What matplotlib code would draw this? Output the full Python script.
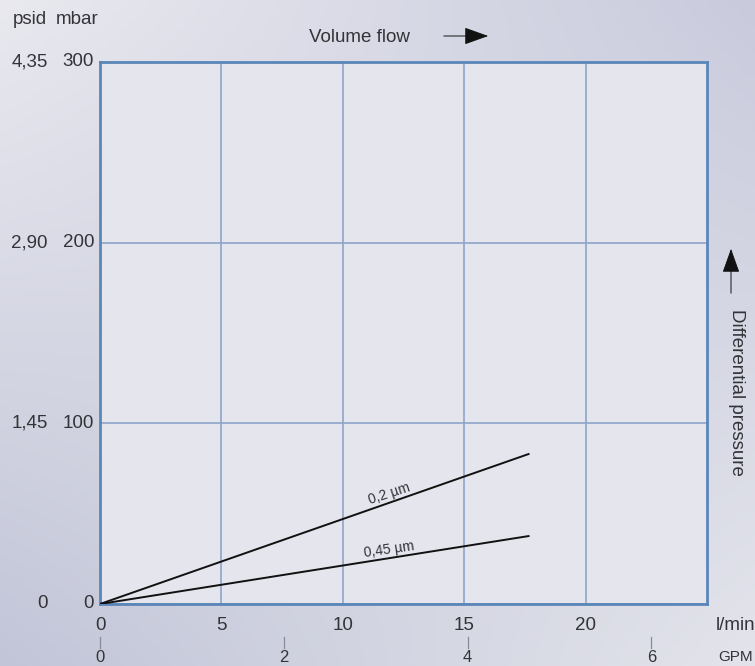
import numpy as np
import matplotlib
matplotlib.use('Agg')
import matplotlib.pyplot as plt
from matplotlib import transforms
from matplotlib.patches import FancyArrowPatch

plt.rcParams['font.family'] = ['Liberation Sans', 'DejaVu Sans']

# ---- data ----
flow_lmin = [0, 17.65]
dp_02 = [0, 83]        # mbar, 0,2 µm
dp_045 = [0, 37.6]     # mbar, 0,45 µm
x_ticks = [0, 5, 10, 15, 20]
gpm_ticks = [0, 2, 4, 6]
LMIN_PER_GPM = 3.785
mbar_ticks = [0, 100, 200, 300]
psid_labels = ['0', '1,45', '2,90', '4,35']

# ---- colours ----
TXT = '#333338'
GRID = '#8fa5c8'
SPINE = '#5a86b8'
PLOT_BG = '#e5e5ed'
FS = 13.5

W, H = 755, 666
fig = plt.figure(figsize=(W / 100, H / 100), dpi=100)

# background gradient (bilinear between corner colours)
bg = fig.add_axes([0, 0, 1, 1])
bg.axis('off')
def c(h):
    return np.array([int(h[i:i + 2], 16) for i in (1, 3, 5)]) / 255
tl, tr, bl, br = c('#e9e9ef'), c('#c9cbdd'), c('#c2c5d8'), c('#e3e4eb')
u = np.linspace(0, 1, 200)[None, :, None]
v = np.linspace(0, 1, 200)[:, None, None]
img = (1 - v) * ((1 - u) * tl + u * tr) + v * ((1 - u) * bl + u * br)
bg.imshow(img, aspect='auto', extent=[0, 1, 0, 1], origin='upper')
bg.set_xlim(0, 1)
bg.set_ylim(0, 1)

L, R, T, B = 100, 707, 62, 604
ax = fig.add_axes([L / W, (H - B) / H, (R - L) / W, (B - T) / H], facecolor=PLOT_BG)
ax.set_xlim(0, 25)
ax.set_ylim(0, 300)
for s in ax.spines.values():
    s.set_color(SPINE)
    s.set_linewidth(2)
ax.set_xticks(x_ticks)
ax.set_yticks(mbar_ticks)
ax.tick_params(length=0, labelbottom=False, labelleft=False)
ax.grid(True, color=GRID, linewidth=1.2)

ax.plot(flow_lmin, dp_02, color='#111111', lw=1.4, zorder=3)
ax.plot(flow_lmin, dp_045, color='#111111', lw=1.4, zorder=3)
ax.text(11.9, 61, '0,2 µm', fontsize=10, color=TXT, rotation=18,
        ha='center', va='center', rotation_mode='anchor')
ax.text(11.9, 30, '0,45 µm', fontsize=10, color=TXT, rotation=8,
        ha='center', va='center', rotation_mode='anchor')

# y tick labels (mbar and psid)
ytr = transforms.blended_transform_factory(fig.transFigure, ax.transData)
for m, p in zip(mbar_ticks, psid_labels):
    ax.text(94 / W, m, str(m), transform=ytr, fontsize=FS, color=TXT,
            ha='right', va='center')
    ax.text(48 / W, m, p, transform=ytr, fontsize=FS, color=TXT,
            ha='right', va='center')
fig.text(30 / W, 1 - 20 / H, 'psid', fontsize=FS, color=TXT, ha='center', va='center')
fig.text(77 / W, 1 - 20 / H, 'mbar', fontsize=FS, color=TXT, ha='center', va='center')

# x tick labels (l/min and GPM)
xtr = transforms.blended_transform_factory(ax.transData, fig.transFigure)
for xv in x_ticks:
    ax.text(xv, 1 - 625 / H, str(xv), transform=xtr, fontsize=FS, color=TXT,
            ha='center', va='center')
for g in gpm_ticks:
    xg = g * LMIN_PER_GPM
    ax.plot([xg, xg], [1 - 637 / H, 1 - 648 / H], transform=xtr, color='#8a8a95',
            lw=0.9, clip_on=False)
    ax.text(xg, 1 - 657 / H, str(g), transform=xtr, fontsize=12, color=TXT,
            ha='center', va='center', clip_on=False)
fig.text(736 / W, 1 - 625 / H, 'l/min', fontsize=FS, color=TXT, ha='center', va='center')
fig.text(736 / W, 1 - 657 / H, 'GPM', fontsize=11, color=TXT, ha='center', va='center')

# axis titles with arrows
arrow_kw = dict(transform=fig.transFigure, color='#111111', lw=0.7,
                arrowstyle='-|>,head_length=2.1,head_width=0.75', mutation_scale=7.2)
fig.text(359 / W, 1 - 37 / H, 'Volume flow', fontsize=FS, color=TXT, ha='center', va='center')
fig.patches.append(FancyArrowPatch((441 / W, 1 - 36 / H), (491 / W, 1 - 36 / H), **arrow_kw))
fig.text(736 / W, 1 - 392 / H, 'Differential pressure', fontsize=FS, color=TXT,
         rotation=-90, ha='center', va='center')
fig.patches.append(FancyArrowPatch((731 / W, 1 - 296 / H), (731 / W, 1 - 246 / H), **arrow_kw))

plt.savefig('out.png', dpi=100)
plt.close()
